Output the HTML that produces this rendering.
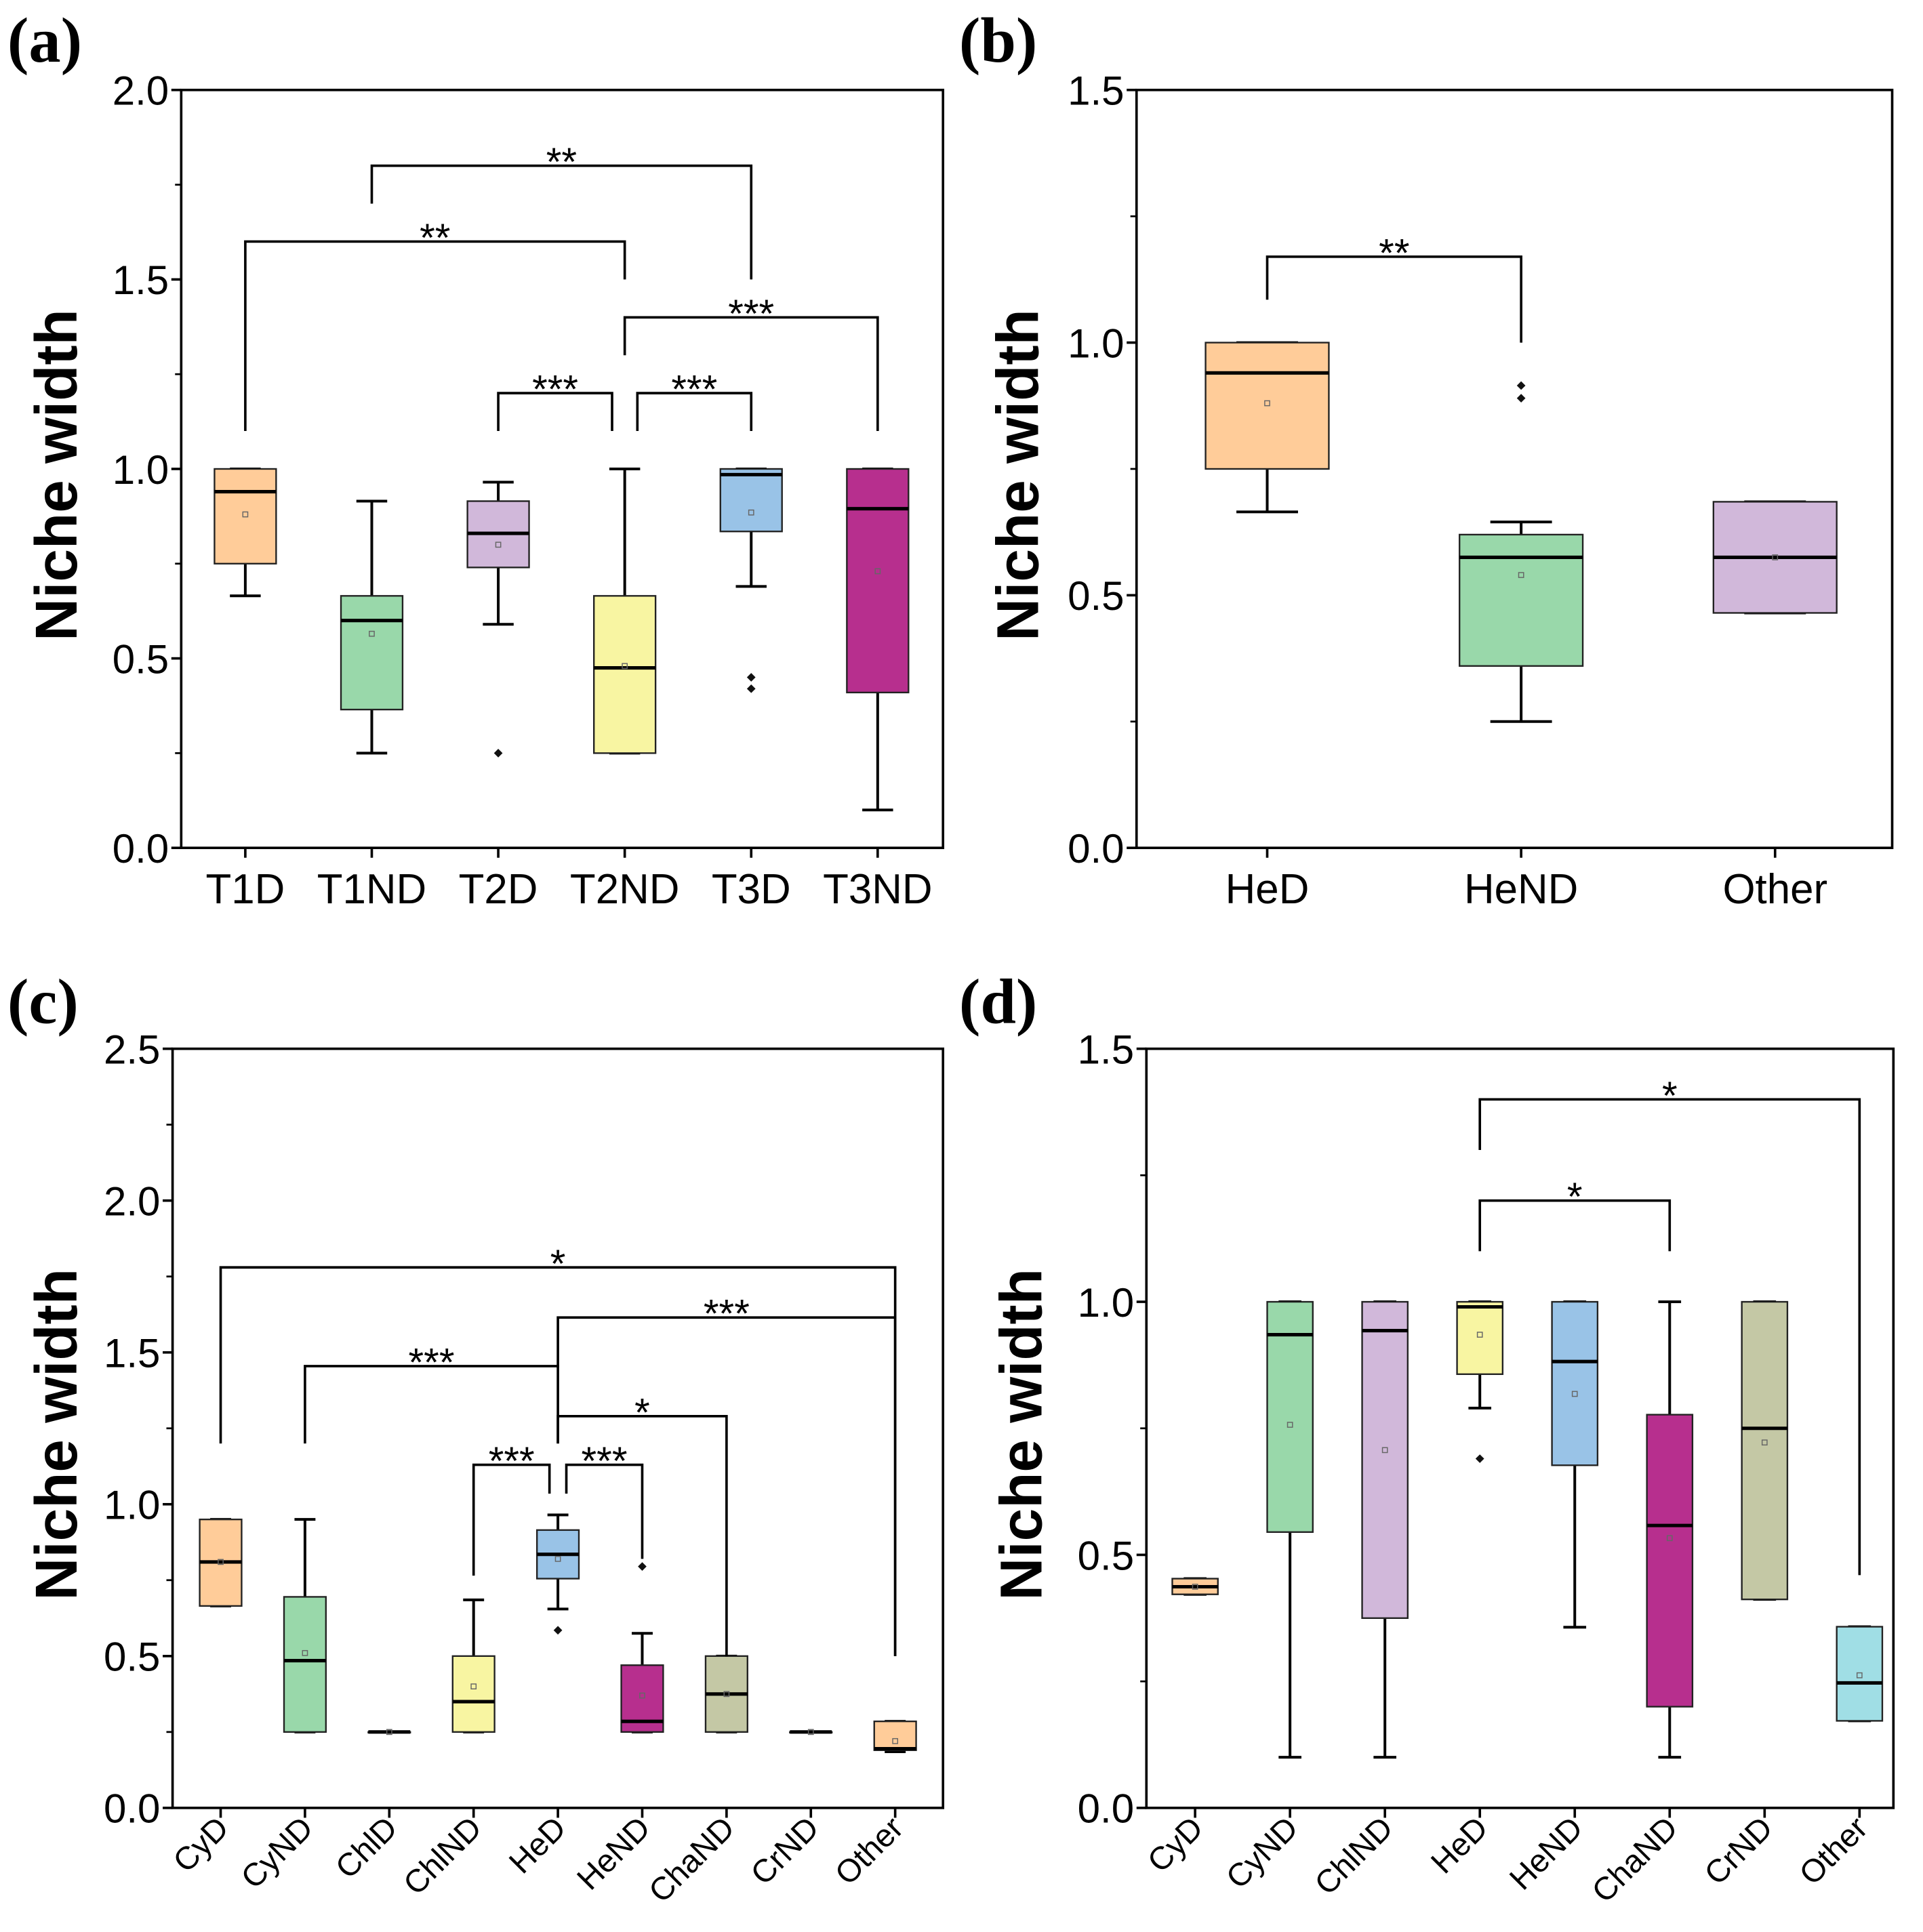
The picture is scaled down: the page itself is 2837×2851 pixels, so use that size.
<!DOCTYPE html>
<html><head><meta charset="utf-8"><style>body{margin:0;background:#fff}svg{display:block}</style></head>
<body>
<svg id="fig" width="2837" height="2851" viewBox="0 0 1560 1567.7" xmlns="http://www.w3.org/2000/svg" font-family="Liberation Sans, Arial, sans-serif"></svg>
<script>
// ---------- Panel (a) data ----------
const catsA = ["T1D","T1ND","T2D","T2ND","T3D","T3ND"];
const minA = [0.665,0.25,0.59,0.25,0.69,0.1];
const q1A = [0.75,0.365,0.74,0.25,0.835,0.41];
const medA = [0.94,0.6,0.83,0.475,0.985,0.895];
const q3A = [1.0,0.665,0.915,0.665,1.0,1.0];
const maxA = [1.0,0.915,0.965,1.0,1.0,1.0];
const meanA = [0.88,0.565,0.8,0.48,0.885,0.73];
const outA = [[],[],[0.25],[],[0.45,0.42],[]];
const ticksA = ["0.0","0.5","1.0","1.5","2.0"];
const brA = [[1,4,1.8,1.7,1.5,"**"],[0,3,1.6,1.1,1.5,"**"],[3,5,1.4,1.3,1.1,"***"],[2,2.9,1.2,1.1,1.1,"***"],[3.1,4,1.2,1.1,1.1,"***"]];
// ---------- Panel (b) data ----------
const catsB = ["HeD","HeND","Other"];
const minB = [0.665,0.25,0.465];
const q1B = [0.75,0.36,0.465];
const medB = [0.94,0.575,0.575];
const q3B = [1.0,0.62,0.685];
const maxB = [1.0,0.645,0.685];
const meanB = [0.88,0.54,0.575];
const outB = [[],[0.89,0.915],[]];
const ticksB = ["0.0","0.5","1.0","1.5"];
const brB = [[0,1,1.17,1.085,1.0,"**"]];
// ---------- Panel (c) data ----------
const catsC = ["CyD","CyND","ChlD","ChlND","HeD","HeND","ChaND","CrND","Other"];
const minC = [0.665,0.25,0.25,0.25,0.655,0.25,0.25,0.25,0.185];
const q1C = [0.665,0.25,0.25,0.25,0.755,0.25,0.25,0.25,0.19];
const medC = [0.81,0.485,0.25,0.35,0.835,0.285,0.375,0.25,0.195];
const q3C = [0.95,0.695,0.25,0.5,0.915,0.47,0.5,0.25,0.285];
const maxC = [0.95,0.95,0.25,0.685,0.965,0.575,0.5,0.25,0.285];
const meanC = [0.81,0.51,0.25,0.4,0.82,0.37,0.375,0.25,0.22];
const outC = [[],[],[],[],[0.585],[0.795],[],[],[]];
const ticksC = ["0.0","0.5","1.0","1.5","2.0","2.5"];
const brC = [[0,8,1.78,1.2,0.5,"*"],[4,8,1.615,1.45,0.5,"***"],[1,4,1.455,1.2,1.2,"***"],[4,6,1.29,1.2,0.5,"*"],[3,3.9,1.13,0.765,1.035,"***"],[4.1,5,1.13,1.035,0.82,"***"]];
// ---------- Panel (d) data ----------
const catsD = ["CyD","CyND","ChlND","HeD","HeND","ChaND","CrND","Other"];
const minD = [0.422,0.1,0.1,0.79,0.357,0.1,0.412,0.172];
const q1D = [0.422,0.545,0.375,0.857,0.677,0.2,0.412,0.172];
const medD = [0.437,0.935,0.943,0.99,0.882,0.558,0.75,0.247];
const q3D = [0.453,1.0,1.0,1.0,1.0,0.777,1.0,0.358];
const maxD = [0.453,1.0,1.0,1.0,1.0,1.0,1.0,0.358];
const meanD = [0.437,0.757,0.707,0.935,0.818,0.533,0.722,0.262];
const outD = [[],[],[],[0.69],[],[],[],[]];
const ticksD = ["0.0","0.5","1.0","1.5"];
const brD = [[3,7,1.40,1.30,0.46,"*"],[3,5,1.20,1.10,1.10,"*"]];

const OR="#FFCC99",GR="#99D8AA",PU="#D1B8DA",YE="#F8F5A2",BL="#99C3E7",MA="#B72F8E",OL="#C4C8A5",CY="#A0DEE5";
const svg=document.getElementById('fig');
const NS="http://www.w3.org/2000/svg";
function mk(tag,attrs,parent){const e=document.createElementNS(NS,tag);for(const k in attrs)e.setAttribute(k,attrs[k]);(parent||svg).appendChild(e);return e;}

function panel(o){
  const g=mk('g',{});
  
  
  const {L,R,T,B,ymax,x0,dx,bw}=o;
  const ys=v=>B-(v/ymax)*(B-T);
  const xs=i=>x0+i*dx;
  const pl=mk('text',{x:o.lx,y:o.ly,'font-family':'Liberation Serif, serif','font-weight':'bold','font-size':52},g);
  pl.textContent='('+o.id+')';
  
  
  const yt=mk('text',{x:0,y:0,transform:`translate(${o.tx},${(T+B)/2+5}) rotate(-90)`,'text-anchor':'middle','font-weight':'bold','font-size':48},g);
  yt.textContent='Niche width';
  
  
  const n=o.ticks.length-1;
  for(let k=0;k<=n;k++){
    const v=ymax*k/n,y=ys(v);
    mk('line',{x1:L-8,x2:L,y1:y,y2:y,stroke:'#000','stroke-width':2},g);
    const t=mk('text',{x:L-10,y:y+12,'text-anchor':'end','font-size':33},g);
    t.textContent=o.ticks[k];
    
    
    if(k<n){const ym=ys(v+ymax/n/2);mk('line',{x1:L-5,x2:L,y1:ym,y2:ym,stroke:'#000','stroke-width':1.5},g);}
  }
  o.cats.forEach((c,i)=>{
    const x=xs(i);
    mk('line',{x1:x,x2:x,y1:B,y2:B+8,stroke:'#000','stroke-width':2},g);
    let t;
    if(o.rot){t=mk('text',{x:0,y:0,transform:`translate(${x+8},${B+18}) rotate(-45)`,'text-anchor':'end','font-size':26},g);}
    else{t=mk('text',{x:x,y:B+45,'text-anchor':'middle','font-size':34},g);}
    t.textContent=c;
    
    
    const bg=mk('g',{},g);
    
    
    const w=bw;
    mk('line',{x1:x,x2:x,y1:ys(o.max[i]),y2:ys(o.q3[i]),stroke:'#000','stroke-width':2.2},bg);
    mk('line',{x1:x,x2:x,y1:ys(o.q1[i]),y2:ys(o.min[i]),stroke:'#000','stroke-width':2.2},bg);
    mk('line',{x1:x-w/4,x2:x+w/4,y1:ys(o.max[i]),y2:ys(o.max[i]),stroke:'#000','stroke-width':2.2},bg);
    mk('line',{x1:x-w/4,x2:x+w/4,y1:ys(o.min[i]),y2:ys(o.min[i]),stroke:'#000','stroke-width':2.2},bg);
    mk('rect',{x:x-w/2,y:ys(o.q3[i]),width:w,height:Math.max(0.5,ys(o.q1[i])-ys(o.q3[i])),fill:o.col[i],stroke:'#222','stroke-width':1.3},bg);
    mk('line',{x1:x-w/2,x2:x+w/2,y1:ys(o.med[i]),y2:ys(o.med[i]),stroke:'#000','stroke-width':2.8},bg);
    mk('rect',{x:x-2,y:ys(o.mean[i])-2,width:4,height:4,fill:'none',stroke:'#666','stroke-width':0.8},bg);
    o.out[i].forEach(v=>{mk('path',{d:`M${x} ${ys(v)-3.5}l3.5 3.5l-3.5 3.5l-3.5-3.5z`,fill:'#111'},bg);});
  });
  o.br.forEach(b=>{
    const bx1=xs(b[0]),bx2=xs(b[1]),by=ys(b[2]);
    const bg=mk('g',{},g);
    
    
    mk('path',{d:`M${bx1} ${ys(b[3])}V${by}H${bx2}V${ys(b[4])}`,fill:'none',stroke:'#000','stroke-width':2},bg);
    const t=mk('text',{x:(bx1+bx2)/2,y:by+8,'text-anchor':'middle','font-size':32},bg);
    t.textContent=b[5];
  });
  const f=mk('rect',{x:L,y:T,width:R-L,height:B-T,fill:'none',stroke:'#000','stroke-width':2},g);
  
  
}

panel({id:'a',L:147,R:765,T:73,B:688,ymax:2,x0:199,dx:102.6,bw:50,cats:catsA,min:minA,q1:q1A,med:medA,q3:q3A,max:maxA,mean:meanA,out:outA,ticks:ticksA,br:brA,col:[OR,GR,PU,YE,BL,MA],lx:6,ly:50,tx:62,rot:false});
panel({id:'b',L:922,R:1535,T:73,B:688,ymax:1.5,x0:1028,dx:206,bw:100,cats:catsB,min:minB,q1:q1B,med:medB,q3:q3B,max:maxB,mean:meanB,out:outB,ticks:ticksB,br:brB,col:[OR,GR,PU],lx:778,ly:50,tx:842,rot:false});
panel({id:'c',L:140,R:765,T:851,B:1467,ymax:2.5,x0:179,dx:68.4,bw:34,cats:catsC,min:minC,q1:q1C,med:medC,q3:q3C,max:maxC,mean:meanC,out:outC,ticks:ticksC,br:brC,col:[OR,GR,PU,YE,BL,MA,OL,OL,OR],lx:6,ly:830,tx:62,rot:true});
panel({id:'d',L:930,R:1536,T:851,B:1467,ymax:1.5,x0:969.5,dx:77,bw:37,cats:catsD,min:minD,q1:q1D,med:medD,q3:q3D,max:maxD,mean:meanD,out:outD,ticks:ticksD,br:brD,col:[OR,GR,PU,YE,BL,MA,OL,CY],lx:778,ly:830,tx:845,rot:true});
</script>
</body></html>
